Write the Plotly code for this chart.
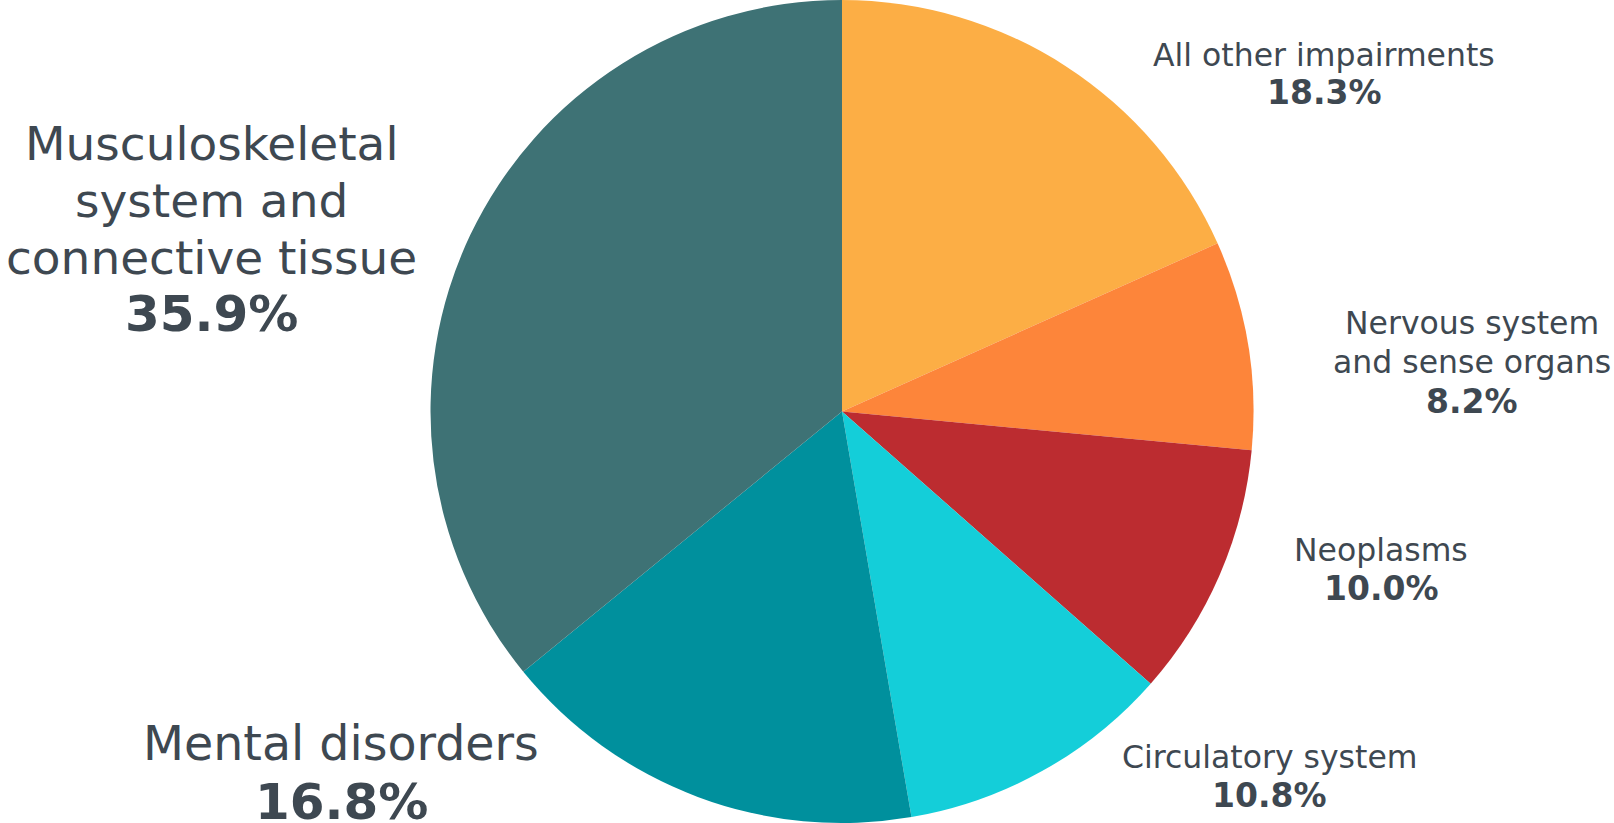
import plotly.graph_objects as go

# ---- data ----
categories = [
    "All other impairments",
    "Nervous system and sense organs",
    "Neoplasms",
    "Circulatory system",
    "Mental disorders",
    "Musculoskeletal system and connective tissue",
]
values = [18.3, 8.2, 10.0, 10.8, 16.8, 35.9]
colors = ["#FCAE45", "#FD853A", "#BC2C30", "#14CED9", "#00909D", "#3E7275"]

# label line breaks (text), layout positions kept separately
label_lines = [
    ["All other impairments"],
    ["Nervous system", "and sense organs"],
    ["Neoplasms"],
    ["Circulatory system"],
    ["Mental disorders"],
    ["Musculoskeletal", "system and", "connective tissue"],
]

W, H = 1614, 823
# (center x px, first line y px, line spacing px, label font size, pct font size)
label_layout = [
    (1324, 55, 37, 31.5, 33),
    (1472, 323, 39, 31.5, 33),
    (1381, 550, 38, 31.5, 33),
    (1269, 757, 38, 31.5, 33),
    (341, 743, 59, 47.5, 50),
    (212, 143, 57, 47, 50),
]

TEXT = "#3E4851"
FONT = "DejaVu Sans"

fig = go.Figure(
    go.Pie(
        labels=categories,
        values=values,
        sort=False,
        direction="clockwise",
        rotation=0,
        marker=dict(colors=colors, line=dict(width=0)),
        textinfo="none",
        showlegend=False,
        domain=dict(x=[(842 - 411.5) / W, (842 + 411.5) / W], y=[0, 1]),
    )
)

annotations = []
for lines, val, (cx, y0, dy, fs, pfs) in zip(label_lines, values, label_layout):
    texts = lines + [f"<b>{val:.1f}%</b>"]
    for i, t in enumerate(texts):
        size = pfs if i == len(texts) - 1 else fs
        annotations.append(
            dict(
                text=t,
                x=cx / W,
                y=1 - (y0 + i * dy) / H,
                xref="paper",
                yref="paper",
                xanchor="center",
                yanchor="middle",
                showarrow=False,
                font=dict(family=FONT, size=size, color=TEXT),
            )
        )

fig.update_layout(
    width=W,
    height=H,
    margin=dict(l=0, r=0, t=0, b=0),
    paper_bgcolor="white",
    plot_bgcolor="white",
    annotations=annotations,
)

fig.write_html(
    "out.html",
    config={"displayModeBar": False},
    post_script="document.body.style.margin='0';document.body.style.overflow='hidden';",
)
